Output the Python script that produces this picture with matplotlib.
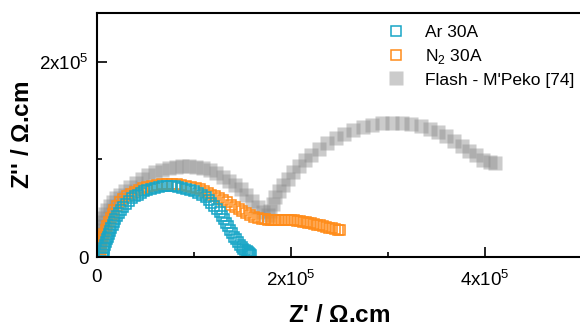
import matplotlib.pyplot as plt
import numpy as np

plt.rcParams['font.family'] = ['Liberation Sans', 'DejaVu Sans']
plt.rcParams['mathtext.fontset'] = 'custom'
plt.rcParams['mathtext.rm'] = 'Liberation Sans'

# values in units of 1e5 Ohm.cm
ar_x = [0.06, 0.065, 0.07, 0.075, 0.08, 0.09, 0.10, 0.11, 0.12, 0.13, 0.145, 0.16,
        0.175, 0.19, 0.21, 0.23, 0.25, 0.27, 0.30, 0.33, 0.36, 0.39, 0.42, 0.45,
        0.48, 0.52, 0.56, 0.60, 0.64, 0.68, 0.72, 0.76, 0.80, 0.84, 0.88, 0.92,
        0.96, 1.00, 1.04, 1.08, 1.12, 1.15, 1.18, 1.21, 1.24, 1.27, 1.29, 1.31,
        1.33, 1.35, 1.37, 1.39, 1.41, 1.43, 1.45, 1.47, 1.49, 1.51, 1.53, 1.55,
        1.56, 1.57, 1.58, 1.59]
ar_y = [0.00, 0.03, 0.06, 0.09, 0.12, 0.15, 0.18, 0.21, 0.24, 0.27, 0.30, 0.33,
        0.36, 0.39, 0.42, 0.45, 0.48, 0.51, 0.54, 0.57, 0.60, 0.62, 0.64, 0.66,
        0.68, 0.69, 0.70, 0.71, 0.72, 0.73, 0.73, 0.73, 0.73, 0.72, 0.71, 0.70,
        0.69, 0.68, 0.66, 0.64, 0.61, 0.58, 0.55, 0.52, 0.49, 0.46, 0.42, 0.39,
        0.35, 0.32, 0.28, 0.25, 0.21, 0.18, 0.15, 0.12, 0.10, 0.08, 0.07, 0.06,
        0.05, 0.04, 0.03, 0.02]

n2_x = [0.03, 0.035, 0.04, 0.045, 0.055, 0.065, 0.075, 0.09, 0.105, 0.12, 0.14,
        0.16, 0.18, 0.21, 0.24, 0.27, 0.31, 0.35, 0.39, 0.43, 0.47, 0.52, 0.57,
        0.62, 0.67, 0.72, 0.77, 0.82, 0.87, 0.92, 0.97, 1.02, 1.06, 1.10, 1.14,
        1.18, 1.22, 1.26, 1.30, 1.34, 1.38, 1.42, 1.46, 1.50, 1.54, 1.58, 1.62,
        1.66, 1.70, 1.73, 1.76, 1.79, 1.82, 1.85, 1.88, 1.91, 1.94, 1.97, 2.00,
        2.03, 2.06, 2.09, 2.12, 2.15, 2.18, 2.21, 2.24, 2.27, 2.30, 2.33, 2.36,
        2.39, 2.42, 2.45, 2.48, 2.51]
n2_y = [0.00, 0.04, 0.08, 0.12, 0.16, 0.20, 0.24, 0.28, 0.32, 0.36, 0.40,
        0.44, 0.48, 0.52, 0.56, 0.59, 0.62, 0.65, 0.67, 0.69, 0.71, 0.72, 0.73,
        0.74, 0.75, 0.75, 0.75, 0.75, 0.74, 0.73, 0.72, 0.71, 0.70, 0.68, 0.66,
        0.64, 0.62, 0.60, 0.58, 0.56, 0.53, 0.51, 0.49, 0.47, 0.45, 0.43, 0.41,
        0.40, 0.39, 0.385, 0.38, 0.38, 0.38, 0.38, 0.38, 0.38, 0.38, 0.38, 0.38,
        0.375, 0.37, 0.37, 0.36, 0.36, 0.35, 0.35, 0.34, 0.33, 0.33, 0.32, 0.31,
        0.30, 0.30, 0.29, 0.28, 0.28]

flash_x = [0.00, 0.002, 0.004, 0.007, 0.01, 0.015, 0.02, 0.03, 0.04, 0.05, 0.065,
           0.08, 0.10, 0.13, 0.16, 0.20, 0.24, 0.29, 0.34, 0.40, 0.46, 0.53,
           0.60, 0.67, 0.74, 0.81, 0.88, 0.95, 1.02, 1.09, 1.16, 1.23, 1.30,
           1.36, 1.42, 1.48, 1.54, 1.60, 1.66, 1.71, 1.76,
           1.78, 1.81, 1.84, 1.88, 1.92, 1.97, 2.02, 2.08, 2.14, 2.21, 2.29,
           2.37, 2.46, 2.55, 2.64, 2.74, 2.84, 2.94, 3.04, 3.14, 3.24, 3.34,
           3.43, 3.52, 3.60, 3.68, 3.76, 3.84, 3.91, 3.98, 4.05, 4.10]
flash_y = [0.00, 0.04, 0.08, 0.12, 0.16, 0.20, 0.24, 0.28, 0.32, 0.36, 0.40,
           0.44, 0.48, 0.52, 0.56, 0.60, 0.64, 0.68, 0.72, 0.76, 0.80, 0.84,
           0.87, 0.89, 0.91, 0.92, 0.93, 0.93, 0.92, 0.91, 0.89, 0.86, 0.82,
           0.78, 0.74, 0.70, 0.64, 0.57, 0.51, 0.46, 0.43,
           0.47, 0.54, 0.61, 0.68, 0.74, 0.80, 0.87, 0.93, 0.99, 1.05, 1.11,
           1.17, 1.22, 1.26, 1.30, 1.33, 1.35, 1.37, 1.37, 1.37, 1.36, 1.34,
           1.31, 1.28, 1.24, 1.19, 1.14, 1.09, 1.04, 0.99, 0.97, 0.96]

scale = 1e5

fig = plt.figure(figsize=(5.8, 3.28), dpi=100)
ax = fig.add_axes([97 / 580, 71 / 328, 485 / 580, 244 / 328])

ax.plot(np.array(flash_x) * scale, np.array(flash_y) * scale, 's', ms=9.5,
        color='#8c8c8c', alpha=0.45, mec='none', label="Flash - M'Peko [74]")
ax.plot(np.array(n2_x) * scale, np.array(n2_y) * scale, 's', ms=7,
        mfc='none', mec='#ff8c1a', mew=1.1, label=r'N$_2$ 30A')
ax.plot(np.array(ar_x) * scale, np.array(ar_y) * scale, 's', ms=7,
        mfc='none', mec='#18a6c6', mew=1.1, label='Ar 30A')

ax.set_xlim(0, 5e5)
ax.set_ylim(0, 2.5e5)

ax.set_xticks([0, 2e5, 4e5])
ax.set_xticklabels(['0', r'2x10$^5$', r'4x10$^5$'])
ax.set_xticks([1e5, 3e5], minor=True)
ax.set_yticks([0, 2e5])
ax.set_yticklabels(['0', r'2x10$^5$'])
ax.set_yticks([1e5], minor=True)
ax.tick_params(which='both', direction='in', labelsize=13.5, width=1.2,
               top=False, right=False)
ax.tick_params(which='major', length=7)
ax.tick_params(which='minor', length=3.5)
ax.tick_params(axis='x', pad=9)
ax.tick_params(axis='y', pad=6)
for s in ax.spines.values():
    s.set_linewidth(1.5)

ax.set_xlabel(r"Z' / $\mathregular{\Omega}$.cm", fontsize=17.5, fontweight='bold', labelpad=10)
ax.set_ylabel(r"Z'' / $\mathregular{\Omega}$.cm", fontsize=17.5, fontweight='bold', labelpad=4)

h, l = ax.get_legend_handles_labels()
order = [2, 1, 0]
fig.legend([h[i] for i in order], [l[i] for i in order], loc='upper left',
           bbox_to_anchor=(387 / 580, 1 - 25 / 328), frameon=False,
           fontsize=12.5, handlelength=1.0, handletextpad=1.2,
           labelspacing=0.38, borderaxespad=0, borderpad=0)

fig.savefig('out.png', dpi=100)
